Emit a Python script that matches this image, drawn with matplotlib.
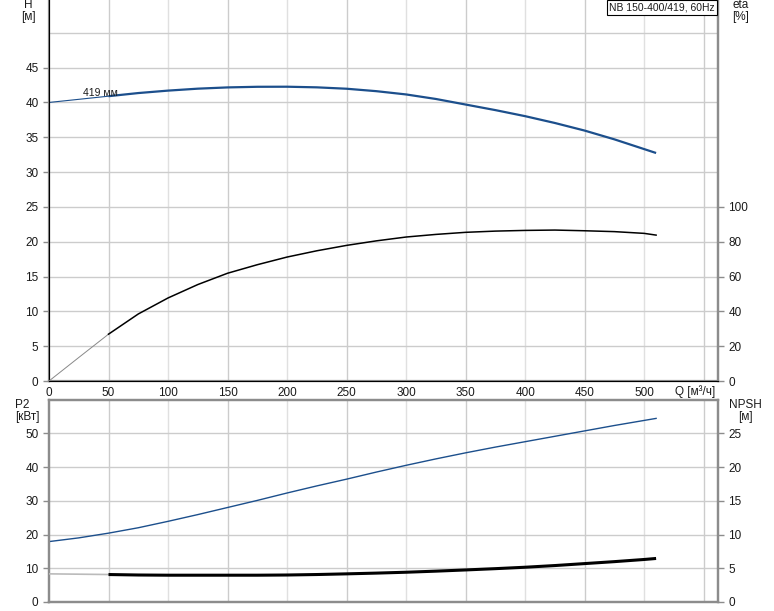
import matplotlib
matplotlib.use('Agg')
import matplotlib.pyplot as plt

plt.rcParams['font.family'] = ['Liberation Sans', 'DejaVu Sans']

# Q [м³/ч] для кривых
q = [0, 25, 50, 75, 100, 125, 150, 175, 200, 225, 250, 275, 300, 325, 350,
     375, 400, 425, 450, 475, 500, 510]
head = [40.0, 40.45, 40.9, 41.35, 41.7, 41.98, 42.16, 42.25, 42.26, 42.17, 41.97,
        41.62, 41.15, 40.5, 39.7, 38.9, 38.03, 37.05, 35.96, 34.7, 33.3, 32.74]
p2 = [17.9, 19.0, 20.4, 22.0, 23.9, 25.9, 28.0, 30.1, 32.3, 34.4, 36.4, 38.5,
      40.5, 42.4, 44.2, 45.9, 47.5, 49.1, 50.7, 52.3, 53.8, 54.4]
npsh = [4.17, 4.12, 4.07, 4.0, 3.97, 3.97, 3.97, 3.97, 4.0, 4.07, 4.17, 4.28,
        4.41, 4.57, 4.75, 4.94, 5.15, 5.4, 5.69, 5.98, 6.3, 6.45]
eta = [0, 13.5, 26.9, 38.5, 47.7, 55.4, 61.9, 66.8, 71.2, 74.8, 77.9, 80.5,
       82.7, 84.2, 85.4, 86.1, 86.5, 86.7, 86.3, 85.8, 84.8, 83.8]

x_ticks = [0, 50, 100, 150, 200, 250, 300, 350, 400, 450, 500]
h_ticks = [0, 5, 10, 15, 20, 25, 30, 35, 40, 45]
eta_ticks = [0, 20, 40, 60, 80, 100]
p2_ticks = [0, 10, 20, 30, 40, 50]
npsh_ticks = [0, 5, 10, 15, 20, 25]

W, H = 774, 611
fig = plt.figure(figsize=(W / 100, H / 100), dpi=100)

spine_c = '#8c8c8c'
grid_dark = '#cccccc'
grid_light = '#e0e0e0'
blue = '#1c4f8c'
txt = '#1a1a1a'
fs = 8.5

x0, x1 = 49, 718
ax1 = fig.add_axes([x0 / W, (H - 381) / H, (x1 - x0) / W, 383 / H])
ax2 = fig.add_axes([x0 / W, (H - 602) / H, (x1 - x0) / W, 202.5 / H])

xmax = 562
for ax in (ax1, ax2):
    ax.set_xlim(0, xmax)
    for v in range(50, 551, 50):
        ax.axvline(v, color=grid_dark if (v // 50) % 2 else grid_light, lw=1, zorder=0)
    for s in ax.spines.values():
        s.set_color(spine_c)
        s.set_linewidth(1.6)
    ax.tick_params(colors=spine_c, labelcolor=txt, labelsize=fs, length=4, width=1)

# верхний график: H и eta
ax1.set_ylim(0, 55)
for v in range(5, 55, 5):
    ax1.axhline(v, color=grid_dark, lw=1, zorder=0)
ax1.spines['top'].set_visible(False)
ax1.set_yticks(h_ticks)
ax1.set_xticks(x_ticks)
ax1.tick_params(axis='x', length=0, pad=4)

ax1.plot(q[:3], head[:3], color=blue, lw=0.8, zorder=3)
ax1.plot(q[2:], head[2:], color=blue, lw=1.6, zorder=3, solid_capstyle='butt')
ax1.text(28.5, 41.3, '419 мм', fontsize=7.5, color=txt, ha='left', va='center')

ax1r = ax1.twinx()
ax1r.set_ylim(0, 220)
ax1r.set_yticks(eta_ticks)
ax1r.spines['top'].set_visible(False)
ax1r.spines['right'].set_color(spine_c)
ax1r.spines['right'].set_linewidth(1.6)
ax1r.tick_params(colors=spine_c, labelcolor=txt, labelsize=fs, length=4, width=1)
ax1r.plot(q[:3], eta[:3], color='#888888', lw=0.7, zorder=3)
ax1r.plot(q[2:], eta[2:], color='black', lw=1.1, zorder=3)

# нижний график: P2 и NPSH
ax2.set_ylim(0, 60)
for v in range(10, 60, 10):
    ax2.axhline(v, color=grid_dark, lw=1, zorder=0)
ax2.set_yticks(p2_ticks)
ax2.set_xticks([])
ax2.plot(q, p2, color=blue, lw=1.0, zorder=3)

ax2r = ax2.twinx()
ax2r.set_ylim(0, 30)
ax2r.set_yticks(npsh_ticks)
for s in ax2r.spines.values():
    s.set_color(spine_c)
    s.set_linewidth(1.6)
ax2r.tick_params(colors=spine_c, labelcolor=txt, labelsize=fs, length=4, width=1)
ax2r.plot(q[:3], npsh[:3], color='#bbbbbb', lw=1.2, zorder=3)
ax2r.plot(q[2:], npsh[2:], color='black', lw=2.2, zorder=3, solid_capstyle='butt')

# подписи осей
def ftext(x, y, s, **kw):
    fig.text(x / W, 1 - y / H, s, fontsize=fs, color=txt, ha='center', va='center', **kw)

ftext(28, 5, 'H')
ftext(28, 17, '[м]')
ftext(741, 5, 'eta')
ftext(741, 17, '[%]')
ftext(22, 405, 'P2')
ftext(27, 417, '[кВт]')
ftext(745, 405, 'NPSH')
ftext(745, 417, '[м]')
ftext(695, 392, 'Q [м³/ч]')

fig.text(662 / W, 1 - 7.5 / H, 'NB 150-400/419, 60Hz', fontsize=7.5, color=txt,
         ha='center', va='center',
         bbox=dict(boxstyle='square,pad=0.25', fc='white', ec='black', lw=0.8))

fig.savefig('out.png', dpi=100)
